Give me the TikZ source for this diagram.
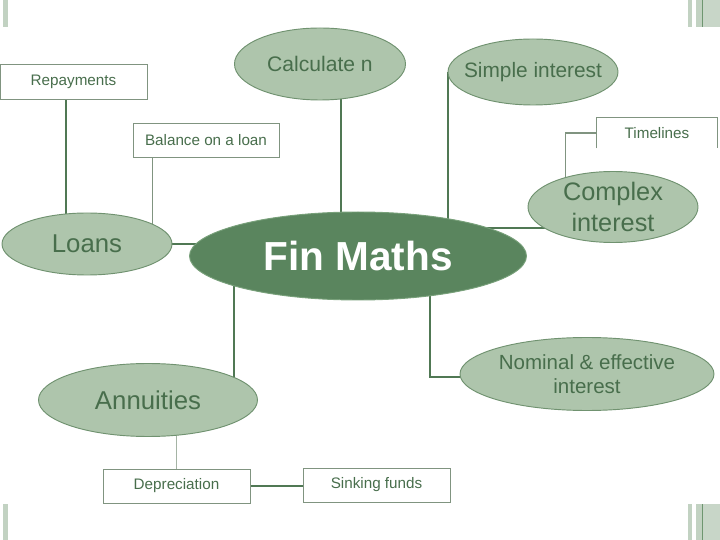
\documentclass[tikz,border=0pt]{standalone}
\usepackage{fontspec}
\setmainfont{Liberation Sans}
\usetikzlibrary{shapes.geometric,backgrounds,positioning}
\definecolor{fmdark}{RGB}{90,133,94}
\definecolor{fmdarkedge}{RGB}{120,160,122}
\definecolor{fmlight}{RGB}{174,197,172}
\definecolor{fmedge}{RGB}{112,146,112}
\definecolor{fmtext}{RGB}{72,110,76}
\definecolor{fmline}{RGB}{80,120,84}
\definecolor{fmbox}{RGB}{128,148,128}
\definecolor{fmthin}{RGB}{165,180,165}
\definecolor{fmbar}{RGB}{194,210,194}
\definecolor{fmbarline}{RGB}{110,150,112}
\newcommand{\px}{0.03cm}

\begin{document}
\begin{tikzpicture}[x=\px, y=-\px]
  \tikzset{
    topic/.style={ellipse, draw=fmedge, line width=0.8pt, fill=fmlight, text=fmtext, inner sep=-15pt, align=center},
    sub/.style={rectangle, draw=fmbox, line width=0.6pt, fill=white, text=fmtext, inner sep=0pt, font=\fontsize{13}{15}\selectfont},
    link/.style={draw=fmline, line width=1.7pt},
    thinlink/.style={draw=fmbox, line width=0.8pt}
  }
  \useasboundingbox (0,0) rectangle (720,540);

  % --- slide bars ---
  \fill[fmbar] (3,0) rectangle (8,27);
  \fill[fmbar] (3,504) rectangle (8,540);
  \foreach \y/\h in {0/27, 504/540} {
    \fill[fmbar] (688,\y) rectangle (692,\h);
    \fill[fmbar] (696,\y) rectangle (702,\h);
    \fill[fmbar!90!white] (703,\y) rectangle (720,\h);
    \draw[fmbarline, line width=0.6pt] (702.5,\y) -- (702.5,\h);
  }

  % --- centre ---
  \node[ellipse, draw=fmdarkedge, line width=0.8pt, fill=fmdark, text=white, inner sep=-15pt,
        minimum width=337*\px, minimum height=88*\px,
        font=\bfseries\fontsize{34.6}{40}\selectfont] (fin) at (358,256) {Fin Maths};

  % --- topics ---
  \node[topic, minimum width=171*\px, minimum height=72*\px, font=\fontsize{18}{21}\selectfont]
    (calc) at (320,64) {Calculate n};
  \node[topic, minimum width=170*\px, minimum height=66*\px, font=\fontsize{17.8}{21}\selectfont]
    (simple) at (533,72) {Simple interest};
  \node[topic, minimum width=170*\px, minimum height=71*\px, font=\fontsize{21.6}{27}\selectfont]
    (complex) at (613,207) {Complex\\interest};
  \node[topic, minimum width=170*\px, minimum height=62*\px, font=\fontsize{22}{26}\selectfont]
    (loans) at (87,244) {Loans};
  \node[topic, minimum width=219*\px, minimum height=73*\px, font=\fontsize{22}{26}\selectfont]
    (annu) at (148,400) {Annuities};
  \node[topic, minimum width=254*\px, minimum height=73*\px, font=\fontsize{17.5}{20.5}\selectfont]
    (nominal) at (587,374) {Nominal \& effective\\interest};

  % --- sub topics ---
  \node[sub, minimum width=147*\px, minimum height=35*\px] (rep) at (73.5,81.5) {Repayments};
  \node[sub, minimum width=146*\px, minimum height=34*\px] (bal) at (206,140) {Balance on a loan};
  \node[sub, draw=none, minimum width=120*\px, minimum height=30*\px] (time) at (657,133) {Timelines};
  \draw[fmbox, line width=0.6pt] (time.south west) -- (time.north west) -- (time.north east) -- (time.south east);
  \node[sub, minimum width=147*\px, minimum height=34*\px] (dep) at (176.5,486) {Depreciation};
  \node[sub, minimum width=147*\px, minimum height=34*\px] (sink) at (376.5,485) {Sinking funds};

  % --- connectors (behind the shapes) ---
  \begin{scope}[on background layer]
    \draw[link] (rep.south) ++(-7.5,0) coordinate (r) -- (r |- loans);
    \draw[thinlink] (bal.south) ++(-54,0) coordinate (b) -- (b |- loans);
    \draw[link] (calc) ++(21,0) coordinate (c) -- (c |- fin);
    \draw[link] (loans) -- (loans -| fin);
    \draw[link] (simple.west) -- (simple.west |- fin);
    \draw[link] (complex) ++(0,21) coordinate (x) -- (x -| fin);
    \draw[thinlink, line width=1.1pt] (time.west) -- ++(-31,0) coordinate (t) -- (t |- complex);
    \draw[link] (fin) ++(-124,0) coordinate (a) -- (a |- annu);
    \draw[link] (fin) ++(72,0) coordinate (n) |- ([yshift=-3*\px]nominal.center);
    \draw[draw=fmthin, line width=0.8pt] (dep.north) -- (dep.north |- annu);
    \draw[link] (dep.east) -- (dep.east -| sink.west);
  \end{scope}
\end{tikzpicture}
\end{document}
